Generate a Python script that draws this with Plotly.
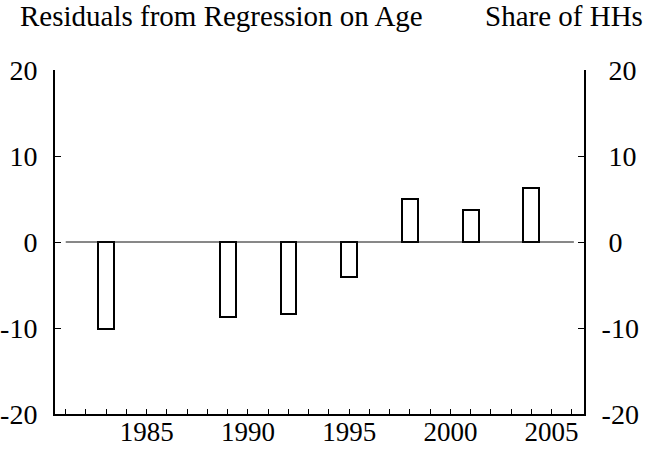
import plotly.graph_objects as go

years = [1983, 1989, 1992, 1995, 1998, 2001, 2004]
residuals = [-10.15, -8.76, -8.41, -4.03, 4.97, 3.77, 6.24]

y_ticks = [-20, -10, 0, 10, 20]
y_left_text = ["-20", "-10", "0", "10", "20"]
y_right_text = ["-20", "-10", "\u00a00", "\u00a010", "\u00a020"]
x_ticks = [1985, 1990, 1995, 2000, 2005]
x_tick_text = ["1985", "1990", "1995", "2000", "2005"]

left_title = "Residuals from Regression on Age"
right_title = "Share of HHs"

FONT = "Liberation Serif, Times New Roman, serif"

fig = go.Figure()
fig.add_trace(go.Bar(
    x=years, y=residuals, width=0.78,
    marker=dict(color="white", line=dict(color="black", width=2)),
    showlegend=False, hoverinfo="x+y",
))
# zero reference line (on right axis so it gets drawn)
fig.add_trace(go.Scatter(
    x=[1981, 2006.1], y=[0, 0], mode="lines", yaxis="y2",
    line=dict(color="#111111", width=1), showlegend=False, hoverinfo="skip",
))

fig.update_layout(
    width=659, height=450,
    margin=dict(l=55, r=75, t=70, b=36, autoexpand=False),
    paper_bgcolor="white", plot_bgcolor="white",
    font=dict(family=FONT, size=28, color="black"),
    bargap=0,
    xaxis=dict(
        range=[1980.47, 2006.6], tickvals=x_ticks, ticktext=x_tick_text,
        ticks="inside", ticklen=5, tickwidth=1, tickcolor="black",
        minor=dict(dtick=1, tick0=1980, ticks="inside", ticklen=5, tickwidth=1, tickcolor="black"),
        showline=True, linecolor="black", linewidth=2,
        showgrid=False, zeroline=False, automargin=False,
        tickfont=dict(size=27), ticklabelstandoff=-7,
    ),
    yaxis=dict(
        range=[-20, 20], tickvals=y_ticks, ticktext=y_left_text,
        ticks="inside", ticklen=6, tickwidth=1, tickcolor="black",
        showline=True, linecolor="black", linewidth=2,
        showgrid=False, zeroline=False, automargin=False,
        tickfont=dict(size=28), ticklabelstandoff=10,
    ),
    yaxis2=dict(
        range=[-20, 20], tickvals=y_ticks, ticktext=y_right_text,
        overlaying="y", side="right", anchor="x",
        ticks="inside", ticklen=6, tickwidth=1, tickcolor="black",
        showline=True, linecolor="black", linewidth=2,
        showgrid=False, zeroline=False, automargin=False,
        tickfont=dict(size=28), ticklabelstandoff=10,
    ),
    annotations=[
        dict(text=left_title, xref="paper", yref="paper", x=-0.07, y=1.157,
             xanchor="left", yanchor="middle", showarrow=False,
             font=dict(family=FONT, size=29, color="black")),
        dict(text=right_title, xref="paper", yref="paper", x=0.809, y=1.157,
             xanchor="left", yanchor="middle", showarrow=False,
             font=dict(family=FONT, size=29, color="black")),
    ],
)

fig.write_html(
    "out.html",
    config={"displayModeBar": False},
    post_script="document.body.style.margin='0';document.body.style.overflow='hidden';",
)
